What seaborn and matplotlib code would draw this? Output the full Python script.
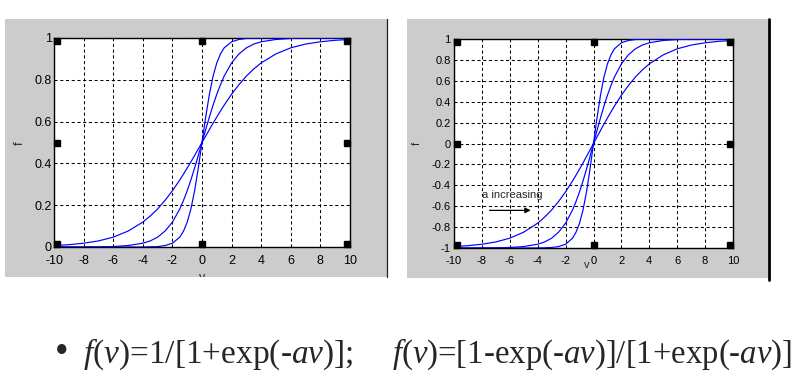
import numpy as np
import pandas as pd
import matplotlib
matplotlib.use("Agg")
import matplotlib.pyplot as plt
import matplotlib.transforms as mtransforms
from matplotlib.patches import Rectangle
import seaborn as sns

# values (v axis shared)
v = [-10, -9, -8, -7, -6, -5, -4, -3.5, -3, -2.5, -2, -1.5, -1.25, -1, -0.75, -0.5, -0.25,
     0, 0.25, 0.5, 0.75, 1, 1.25, 1.5, 2, 2.5, 3, 3.5, 4, 5, 6, 7, 8, 9, 10]

# left panel: f(v)=1/[1+exp(-av)]
log_a05 = [0.007, 0.011, 0.018, 0.029, 0.047, 0.076, 0.119, 0.148, 0.182, 0.223, 0.269, 0.321, 0.349,
           0.378, 0.407, 0.438, 0.469, 0.5, 0.531, 0.562, 0.593, 0.622, 0.651, 0.679, 0.731, 0.777,
           0.818, 0.852, 0.881, 0.924, 0.953, 0.971, 0.982, 0.989, 0.993]
log_a1 = [0.0, 0.0, 0.0, 0.001, 0.002, 0.007, 0.018, 0.029, 0.047, 0.076, 0.119, 0.182, 0.223,
          0.269, 0.321, 0.378, 0.438, 0.5, 0.562, 0.622, 0.679, 0.731, 0.777, 0.818, 0.881, 0.924,
          0.953, 0.971, 0.982, 0.993, 0.998, 0.999, 1.0, 1.0, 1.0]
log_a2 = [0.0, 0.0, 0.0, 0.0, 0.0, 0.0, 0.0, 0.001, 0.002, 0.007, 0.018, 0.047, 0.076,
          0.119, 0.182, 0.269, 0.378, 0.5, 0.622, 0.731, 0.818, 0.881, 0.924, 0.953, 0.982, 0.993,
          0.998, 0.999, 1.0, 1.0, 1.0, 1.0, 1.0, 1.0, 1.0]

# right panel: f(v)=[1-exp(-av)]/[1+exp(-av)]
tanh_a05 = [-0.986, -0.978, -0.964, -0.942, -0.906, -0.848, -0.762, -0.704, -0.636, -0.554, -0.462,
            -0.358, -0.302, -0.244, -0.186, -0.124, -0.062, 0.0, 0.062, 0.124, 0.186, 0.244, 0.302,
            0.358, 0.462, 0.554, 0.636, 0.704, 0.762, 0.848, 0.906, 0.942, 0.964, 0.978, 0.986]
tanh_a1 = [-1.0, -1.0, -0.999, -0.998, -0.995, -0.986, -0.964, -0.942, -0.906, -0.848, -0.762,
           -0.636, -0.554, -0.462, -0.358, -0.244, -0.124, 0.0, 0.124, 0.244, 0.358, 0.462, 0.554,
           0.636, 0.762, 0.848, 0.906, 0.942, 0.964, 0.986, 0.995, 0.998, 0.999, 1.0, 1.0]
tanh_a2 = [-1.0, -1.0, -1.0, -1.0, -1.0, -1.0, -0.999, -0.998, -0.995, -0.986, -0.964,
           -0.906, -0.848, -0.762, -0.636, -0.462, -0.244, 0.0, 0.244, 0.462, 0.636, 0.762, 0.848,
           0.906, 0.964, 0.986, 0.995, 0.998, 0.999, 1.0, 1.0, 1.0, 1.0, 1.0, 1.0]

x_ticks = [-10, -8, -6, -4, -2, 0, 2, 4, 6, 8, 10]
left_yticks = [0, 0.2, 0.4, 0.6, 0.8, 1]
left_ylabels = ["0", "0.2", "0.4", "0.6", "0.8", "1"]
right_yticks = [-1, -0.8, -0.6, -0.4, -0.2, 0, 0.2, 0.4, 0.6, 0.8, 1]
right_ylabels = ["-1", "-0.8", "-0.6", "-0.4", "-0.2", "0", "0.2", "0.4", "0.6", "0.8", "1"]


def long_table(curves):
    rows = []
    for a, vals in curves.items():
        rows.append(pd.DataFrame({"v": v, "f": vals, "a": a}))
    return pd.concat(rows, ignore_index=True)


df_left = long_table({0.5: log_a05, 1: log_a1, 2: log_a2})
df_right = long_table({0.5: tanh_a05, 1: tanh_a1, 2: tanh_a2})

sns.set_style("white")
plt.rcParams["font.family"] = ["Liberation Sans", "DejaVu Sans"]
plt.rcParams["mathtext.fontset"] = "custom"
plt.rcParams["mathtext.rm"] = "Liberation Serif"
plt.rcParams["mathtext.it"] = "Liberation Serif:italic"

W, H = 803, 375
fig = plt.figure(figsize=(W / 100, H / 100), dpi=100, facecolor="white")


def px_rect(x0, y0, x1, y1):
    # pixel box (top-left origin) -> figure fraction [l, b, w, h]
    return [x0 / W, 1 - y1 / H, (x1 - x0) / W, (y1 - y0) / H]


# gray window backgrounds
panels = []
for (x0, y0, x1, y1) in [(5, 19, 387, 277), (407, 19, 768, 278)]:
    l, b, w, h = px_rect(x0, y0, x1, y1)
    r = Rectangle((l, b), w, h, transform=fig.transFigure, facecolor="#cccccc",
                  edgecolor="none", zorder=0)
    fig.add_artist(r)
    panels.append(r)
fig.add_artist(plt.Line2D([387.5 / W] * 2, [1 - 19 / H, 1 - 277 / H], color="#222222", lw=0.9))
fig.add_artist(plt.Line2D([769 / W] * 2, [1 - 19 / H, 1 - 280 / H], color="black", lw=2))

ax1 = fig.add_axes(px_rect(54, 38, 350, 247))
ax2 = fig.add_axes(px_rect(454, 39, 733, 248))

setups = [
    (ax1, df_left, left_yticks, left_ylabels, (0, 1), 9, 1.5),
    (ax2, df_right, right_yticks, right_ylabels, (-1, 1), 8, 2.5),
]
for ax, df, yt, yl, ylim, fs, ypad in setups:
    ax.set_facecolor("white")
    sns.lineplot(data=df, x="v", y="f", units="a", estimator=None, color="blue",
                 lw=0.85, ax=ax, legend=False, zorder=3)
    ax.set_xlim(-10, 10)
    ax.set_ylim(*ylim)
    ax.set_xticks(x_ticks)
    ax.set_xticklabels([str(t) for t in x_ticks])
    ax.set_yticks(yt)
    ax.set_yticklabels(yl)
    ax.grid(True, color="black", linestyle=(0, (3, 2.5)), linewidth=0.75)
    ax.tick_params(direction="in", length=3, labelsize=fs, colors="black")
    ax.tick_params(axis="x", pad=5.5)
    ax.tick_params(axis="y", pad=ypad)
    ax.set_xlabel("")
    ax.set_ylabel("")
    for s in ax.spines.values():
        s.set_color("black")
        s.set_linewidth(1.0)
    # selection handles, drawn just inside the axes box
    lo, hi = ylim
    mid = (lo + hi) / 2
    for hx, hy in [(-10, lo), (0, lo), (10, lo), (-10, mid), (10, mid), (-10, hi), (0, hi), (10, hi)]:
        dx = 3 if hx == -10 else (-3 if hx == 10 else 0)
        dy = 3 if hy == lo else (-3 if hy == hi else 0)
        tr = mtransforms.offset_copy(ax.transData, fig=fig, x=dx, y=dy, units="dots")
        ax.plot([hx], [hy], marker="s", ms=4.3, color="black", transform=tr,
                clip_on=False, zorder=5)

# axis labels
fig.text(20 / W, 1 - 143 / H, "f", rotation=90, fontsize=9, ha="center", va="center")
fig.text(417 / W, 1 - 143 / H, "f", rotation=90, fontsize=8, ha="center", va="center")
vl = fig.text(202 / W, 1 - 272 / H, "v", fontsize=9, ha="center", va="top")
vl.set_clip_path(panels[0])
fig.text(587 / W, 1 - 265 / H, "v", fontsize=8, ha="center", va="center")

# annotation in right panel
ax2.text(-8.0, -0.49, "a increasing", fontsize=8, ha="left", va="center")
ax2.annotate("", xy=(-4.3, -0.64), xytext=(-7.65, -0.64),
             arrowprops=dict(arrowstyle="-|>", color="black", lw=0.9, mutation_scale=8))

# formulas under the panels
serif = ["Liberation Serif", "DejaVu Serif"]
fig.text(62 / W, 1 - 363 / H, "\u2022", fontsize=28, family=serif, ha="center", va="baseline")
fig.text(83 / W, 1 - 363 / H, r"$f$($v$)=1/[1+exp(-$av$)];", fontsize=24, family=serif,
         ha="left", va="baseline")
fig.text(392 / W, 1 - 363 / H, r"$f$($v$)=[1-exp(-$av$)]/[1+exp(-$av$)]", fontsize=23.6,
         family=serif, ha="left", va="baseline")

fig.savefig("out.png", dpi=100, facecolor="white")
